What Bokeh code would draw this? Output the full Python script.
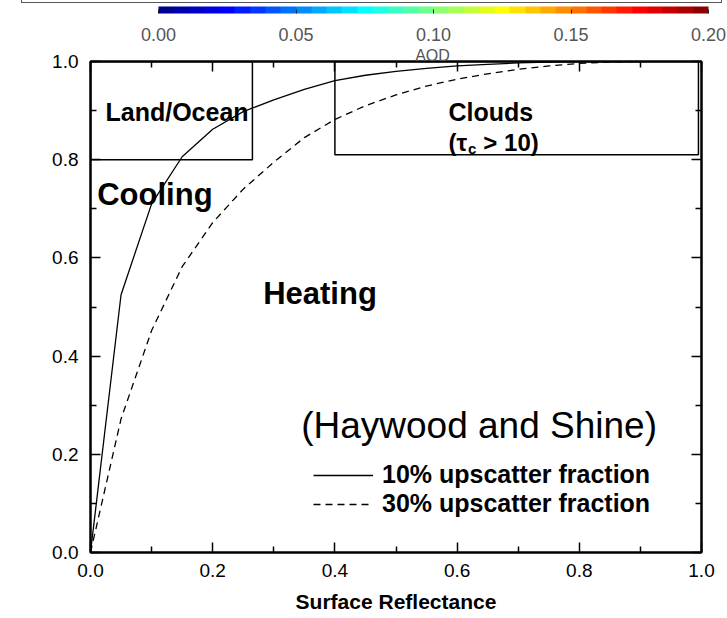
from bokeh.plotting import figure
from bokeh.models import (Range1d, FixedTicker, Label, Legend, LegendItem, LinearAxis,
                          ColorBar, LinearColorMapper, Div)
from bokeh.layouts import column
from bokeh.embed import file_html
from bokeh.resources import INLINE

# ---------------- data ----------------
reflectance = [0.0, 0.05, 0.10, 0.15, 0.20, 0.25, 0.30, 0.35, 0.40, 0.45,
               0.50, 0.55, 0.60, 0.65, 0.70, 0.75, 0.80, 0.85, 0.90]
omega_10pct = [0.0, 0.525, 0.710, 0.806, 0.862, 0.898, 0.922, 0.943, 0.961, 0.972,
               0.980, 0.986, 0.991, 0.994, 0.997, 0.999, 1.0, 1.0, 1.0]
omega_30pct = [0.0, 0.272, 0.452, 0.582, 0.672, 0.740, 0.795, 0.845, 0.882, 0.910,
               0.932, 0.950, 0.964, 0.975, 0.984, 0.991, 0.996, 0.999, 1.0]

region_left = [0.0, 0.40]
region_right = [0.265, 0.995]
region_bottom = [0.80, 0.81]
region_top = [1.0, 1.0]

series_labels = ["10% upscatter fraction", "30% upscatter fraction"]

x_ticks = [0.0, 0.2, 0.4, 0.6, 0.8, 1.0]
x_tick_labels = ["0.0", "0.2", "0.4", "0.6", "0.8", "1.0"]
y_ticks = [0.0, 0.2, 0.4, 0.6, 0.8, 1.0]
y_tick_labels = ["0.0", "0.2", "0.4", "0.6", "0.8", "1.0"]
minor_ticks = [0.1, 0.3, 0.5, 0.7, 0.9]

aod_low, aod_high = 0.0, 0.20
aod_ticks = [0.0, 0.05, 0.10, 0.15, 0.20]
aod_tick_labels = ["0.00", "0.05", "0.10", "0.15", "0.20"]
aod_title = "AOD"
n_colors = 36

SANS = "Liberation Sans"


def jet(n):
    cols = []
    for i in range(n):
        t = (i + 0.5) / n
        r = min(max(1.5 - abs(4 * t - 3), 0), 1)
        g = min(max(1.5 - abs(4 * t - 2), 0), 1)
        b = min(max(1.5 - abs(4 * t - 1), 0), 1)
        cols.append("#%02x%02x%02x" % (int(r * 255), int(g * 255), int(b * 255)))
    return cols


palette = jet(n_colors)

# ---------------- main chart ----------------
p = figure(frame_width=611, frame_height=491, min_border_left=90, min_border_right=26,
           min_border_top=58, min_border_bottom=66,
           x_range=Range1d(0, 1), y_range=Range1d(0, 1),
           output_backend="svg", toolbar_location=None)
p.grid.visible = False
p.outline_line_color = "black"
p.outline_line_width = 2

p.add_layout(LinearAxis(), "above")
p.add_layout(LinearAxis(), "right")

for axis in p.xaxis + p.yaxis:
    axis.axis_line_width = 2
    axis.axis_line_color = "black"
    axis.major_tick_in = 10
    axis.major_tick_out = 0
    axis.minor_tick_in = 6
    axis.minor_tick_out = 0
    axis.major_tick_line_width = 1.5
    axis.minor_tick_line_width = 1.5
    axis.major_label_text_font = SANS
    axis.major_label_text_font_size = "19px"
    axis.major_label_text_color = "black"

for axis in p.xaxis:
    axis.ticker = FixedTicker(ticks=x_ticks, minor_ticks=minor_ticks)
    axis.major_label_overrides = dict(zip(x_ticks, x_tick_labels))
for axis in p.yaxis:
    axis.ticker = FixedTicker(ticks=y_ticks, minor_ticks=minor_ticks)
    axis.major_label_overrides = dict(zip(y_ticks, y_tick_labels))

p.above[0].major_label_overrides = {t: "" for t in x_ticks}
p.above[0].major_label_standoff = 0
p.right[0].major_label_overrides = {t: "" for t in y_ticks}
p.right[0].major_label_standoff = 0

p.below[0].major_label_standoff = 11
p.below[0].axis_label = "Surface Reflectance"
p.below[0].axis_label_text_font = SANS
p.below[0].axis_label_text_font_style = "bold"
p.below[0].axis_label_text_font_size = "21px"
p.below[0].axis_label_text_color = "black"
p.below[0].axis_label_standoff = 10
p.left[0].major_label_standoff = 12

# "AOD" caption of the colour bar, sitting on the top frame line
aod_pos = (432 - 90) / 611
aod_axis = LinearAxis(ticker=FixedTicker(ticks=[aod_pos], minor_ticks=[]),
                      major_label_overrides={aod_pos: aod_title},
                      axis_line_color=None, major_tick_line_color=None,
                      minor_tick_line_color=None, major_label_standoff=-8,
                      major_label_text_font=SANS, major_label_text_font_size="16px",
                      major_label_text_color="#555555")
p.add_layout(aod_axis, "above")

r10 = p.line(reflectance, omega_10pct, line_color="black", line_width=1.3)
r30 = p.line(reflectance, omega_30pct, line_color="black", line_width=1.3, line_dash="7 5")

p.quad(left=region_left, right=region_right, bottom=region_bottom, top=region_top,
       fill_color=None, line_color="black", line_width=1.5)


def lab(text, x, y, size, bold=True, font=SANS, color="black"):
    p.add_layout(Label(text=text, x=x, y=y, text_font=font, text_font_size=size,
                       text_font_style="bold" if bold else "normal",
                       text_color=color, text_baseline="alphabetic"))


lab("Land/Ocean", 0.0245, 0.8967, "25px")
lab("Cooling", 0.011, 0.729, "31px")
lab("Heating", 0.2826, 0.528, "31px")
lab("Clouds", 0.586, 0.898, "25px")
lab("(\u03c4", 0.586, 0.8357, "24px")
lab("c", 0.618, 0.8228, "15px")
lab("> 10)", 0.643, 0.8357, "24px")
lab("(Haywood and Shine)", 0.3448, 0.2587, "37px", bold=False)
lab("\u03c9", -0.1326, 0.4888, "26px", bold=False, font="Liberation Serif")
lab("cr", -0.1031, 0.4684, "19px", bold=False)

legend = Legend(items=[LegendItem(label=series_labels[0], renderers=[r10]),
                       LegendItem(label=series_labels[1], renderers=[r30])],
                location=(223, 34), glyph_width=60, glyph_height=20, label_height=20,
                label_standoff=9, spacing=0, padding=0, margin=0,
                border_line_color=None, background_fill_alpha=0,
                label_text_font=SANS, label_text_font_style="bold",
                label_text_font_size="25px", label_text_color="black")
p.add_layout(legend)

# ---------------- AOD colour bar above the frame ----------------
mapper = LinearColorMapper(palette=palette, low=aod_low, high=aod_high)
cb = ColorBar(color_mapper=mapper, orientation="horizontal", width=550, height=7,
              location=(68, 509), padding=0, margin=0,
              ticker=FixedTicker(ticks=aod_ticks, minor_ticks=[]),
              major_label_overrides=dict(zip(aod_ticks, aod_tick_labels)),
              major_label_text_font=SANS, major_label_text_font_size="18px",
              major_label_text_color="#555555", label_standoff=14,
              major_tick_in=4, major_tick_out=0, major_tick_line_color="#222222",
              minor_tick_line_color=None, bar_line_color=None,
              background_fill_alpha=0, border_line_color=None)
p.add_layout(cb)

# bottom edge of the panel above, cut off at the top of the page
edge = Div(text="", width=701, height=3, margin=(0, 0, 0, 21),
           styles={"border-left": "1.5px solid #555555",
                   "border-right": "1.5px solid #555555",
                   "border-bottom": "1.5px solid #555555",
                   "box-sizing": "border-box"})

layout = column(edge, p, spacing=0)
open("out.html", "w").write(file_html(layout, INLINE))
